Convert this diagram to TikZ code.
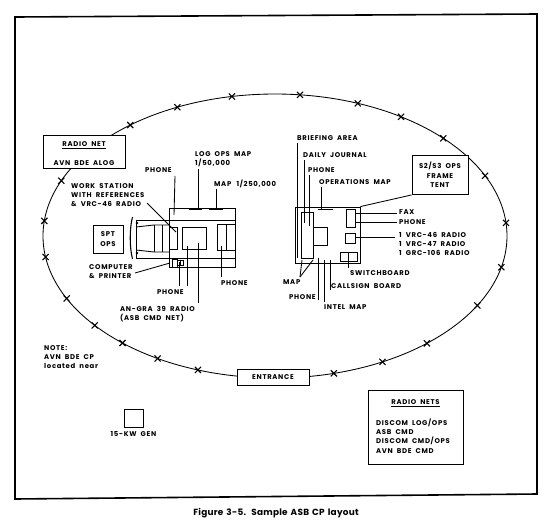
\documentclass[tikz,border=0pt]{standalone}
\usepackage{fontspec}
\setmainfont[LetterSpace=10,WordSpace=1.9]{Poppins}
\newfontfamily\capfont[LetterSpace=3,WordSpace=1.4]{Poppins}
\usetikzlibrary{positioning,shapes.misc}
\newcommand{\lblfont}{\fontsize{6.9}{9.4}\selectfont\bfseries}
\tikzset{
  bx/.style={draw,line width=.9pt,fill=white,inner sep=0pt},
  lbl/.style={font=\lblfont,inner sep=0pt,align=left,anchor=west},
  ctr/.style={font=\lblfont,inner sep=0pt,align=center},
  xm/.style={cross out,draw,line width=1.1pt,inner sep=0pt,minimum size=5pt},
  ldr/.style={line width=.85pt}
}
\begin{document}
\begin{tikzpicture}[x=1pt,y=-1pt]
\useasboundingbox (0,0) rectangle (550,531);
\coordinate (c1) at (15,17);
\coordinate (c2) at (537,14);
\coordinate (c3) at (537,494);
\coordinate (c4) at (15,499);
\draw[line width=1.6pt] (c1) -- (c2) -- (c3) -- (c4) -- cycle;
\draw[line width=.85pt] (275,236) ellipse [x radius=232,y radius=142];
\foreach \t in {231.4,245.1,259.3,276.2,290.9,302.9,316.5,334.9,354.7,12.7,29.3,49.1,62.4,75.3,109.4,120.4,131.1,141,153.9,171.5,186.1,202.9}
  \node[xm] at ({275+232*cos(\t)},{236+142*sin(\t)}) {};

\node[bx,minimum width=82pt,minimum height=33pt] (net) at (84,151.5) {};
\node[ctr] (nett) at (84,145) {\underline{RADIO NET}};
\node[ctr] (neta) at (84,163) {AVN BDE ALOG};
\node[bx,minimum width=30pt,minimum height=28pt,align=center,font=\lblfont] (spt) at (108,239) {SPT\\OPS};

\node[bx,minimum width=66pt,minimum height=59pt] (tentl) at (202,237.5) {};
\node[bx,minimum width=33pt,minimum height=38pt] (rear) at (152.5,239) {};
\coordinate (s1) at (169,220);
\coordinate (s2) at (235,220);
\coordinate (s3) at (169,258);
\coordinate (s4) at (235,258);
\draw[ldr] (s1) -- (s2);
\draw[ldr] (s3) -- (s4);
\coordinate (t1) at (136,227);
\coordinate (t2) at (154,225);
\coordinate (t3) at (169,225);
\coordinate (t4) at (136,250);
\coordinate (t5) at (154,252);
\coordinate (t6) at (169,252);
\coordinate (t7) at (162,225);
\coordinate (t8) at (162,252);
\draw[ldr] (t1) -- (t2) -- (t3);
\draw[ldr] (t4) -- (t5) -- (t6);
\draw[ldr] (t2) -- (t5);
\draw[ldr] (t7) -- (t8);
\node[draw,circle,fill=black,inner sep=.8pt] (bolt1) at (137,223) {};
\node[draw,circle,fill=black,inner sep=.8pt] (bolt2) at (137,253) {};
\coordinate (b1) at (132.5,217);
\coordinate (b2) at (132.5,259);
\draw[line width=1.1pt] (b1) .. controls (129.5,228) and (129.5,248) .. (b2);
\node[bx,minimum width=8pt,minimum height=22pt] (work) at (173,238) {};
\node[bx,minimum width=24pt,minimum height=22pt] (grad) at (194,238) {};
\node[bx,minimum width=18pt,minimum height=26pt] (desk) at (226,237) {};
\draw[ldr] (desk.north) -- (desk.south);
\node[bx,minimum width=5pt,minimum height=8pt] (comp) at (174.5,263) {};
\node[bx,minimum width=6pt,minimum height=5pt] (prnt) at (180,262.5) {};
\draw[ldr] (prnt.north) -- (prnt.south);
\coordinate (m1) at (189,209);
\coordinate (m2) at (202,209);
\coordinate (m3) at (209,209);
\coordinate (m4) at (223,209);
\draw[line width=1.4pt] (m1) -- (m2);
\draw[line width=1.4pt] (m3) -- (m4);

\node[lbl] (wrk) at (71,195) {WORK STATION\\WITH REFERENCES\\\& VRC-46 RADIO};
\node[lbl] (pha) at (145,170) {PHONE};
\node[lbl] (log) at (195,159) {LOG OPS MAP\\1/50,000};
\node[lbl] (mapa) at (214,184) {MAP \,1/250,000};
\node[lbl] (cmp) at (89,271.5) {COMPUTER\\\& PRINTER};
\node[lbl] (phb) at (157,292) {PHONE};
\node[lbl] (phc) at (221,283) {PHONE};
\node[lbl] (gra) at (120,314) {AN-GRA 39 RADIO\\(ASB CMD NET)};

\node[bx,minimum width=65pt,minimum height=56pt] (tentr) at (327.5,235) {};
\node[bx,minimum width=12pt,minimum height=46pt] (brf) at (307,235) {};
\node[bx,minimum width=14pt,minimum height=18pt] (tbl) at (320,236) {};
\node[bx,minimum width=9pt,minimum height=18pt] (fax) at (350.5,218) {};
\node[bx,minimum width=10pt,minimum height=10pt] (rad) at (350.5,238) {};
\node[bx,minimum width=17pt,minimum height=9pt] (swb) at (348.5,256.5) {};
\coordinate (o1) at (318,209);
\coordinate (o2) at (333,209);
\draw[line width=.9pt] (o1) -- (o2);

\node[bx,minimum width=56pt,minimum height=39pt,align=center,font=\lblfont] (s2s3) at (440,175) {S2/S3 OPS\\FRAME\\TENT};
\node[lbl] (brfa) at (297,138) {BRIEFING AREA};
\node[lbl] (jrn) at (303,155) {DAILY JOURNAL};
\node[lbl] (phd) at (308,170) {PHONE};
\node[lbl] (opm) at (319,182) {OPERATIONS MAP};
\node[lbl] (faxt) at (399,212) {FAX};
\node[lbl] (phe) at (399,222) {PHONE};
\node[lbl] (rads) at (399,244) {1 VRC-46 RADIO\\1 VRC-47 RADIO\\1 GRC-106 RADIO};
\node[lbl] (swt) at (350,273) {SWITCHBOARD};
\node[lbl] (cal) at (331,286) {CALLSIGN BOARD};
\node[lbl] (mapb) at (283,282) {MAP};
\node[lbl] (phf) at (289,297) {PHONE};
\node[lbl] (int) at (324,307) {INTEL MAP};

\foreach \n/\xa/\ya/\xb/\yb in {
  a/175/176/174/215, b/198/169/198/208, c/216/189/216/208, d/147/203/176/232,
  e/135/273/170/263, f/179/262/179/286, g/187/246/187/286, h/198/243/198/303,
  i/221/246/221/277, j/297/143/297/258, k/304/160/304/223, l/309/175/309/226,
  m/321/187/321/209, n/355/213/397/213, o/355/222/397/222, p/355/237/395/237,
  q/348/253/348/268, r/300/277/302/260, s/300/277/313/260, t/318/258/318/300,
  u/324/260/324/302, v/330/260/330/290}{
  \coordinate (\n1) at (\xa,\ya);
  \coordinate (\n2) at (\xb,\yb);
  \draw[ldr] (\n1) -- (\n2);
}
\draw[ldr] (s2s3.south west) -- (tentr.north east);

\node[lbl] (note) at (44,357) {NOTE:\\AVN BDE CP\\located near};
\node[bx,minimum width=72pt,minimum height=16pt,font=\lblfont] (ent) at (273,377) {ENTRANCE};
\node[bx,minimum width=19pt,minimum height=18pt] (gen) at (133.5,418) {};
\node[ctr,below=4pt of gen] (gent) {15-KW GEN};
\node[bx,minimum width=95pt,minimum height=74pt] (nets) at (415.5,427) {};
\node[ctr] (nett2) at (415.5,403) {\underline{RADIO NETS}};
\node[lbl] (netl) at (376,436) {DISCOM LOG/OPS\\ASB CMD\\DISCOM CMD/OPS\\AVN BDE CMD};
\node[ctr,font=\fontsize{8.9}{10}\selectfont\bfseries\capfont] (cap) at (276,513) {Figure 3-5. \,Sample ASB CP layout};
\end{tikzpicture}
\end{document}
